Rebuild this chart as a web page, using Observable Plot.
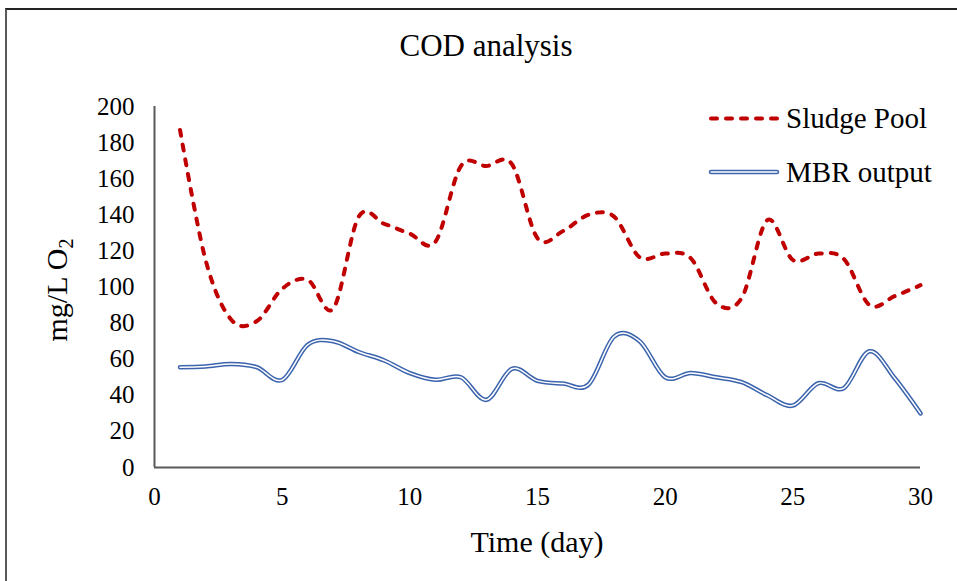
<!DOCTYPE html>
<html>
<head>
<meta charset="utf-8">
<script src="https://cdn.jsdelivr.net/npm/d3@7"></script>
<script src="https://cdn.jsdelivr.net/npm/@observablehq/plot@0.6"></script>
<style>
  html, body { margin: 0; padding: 0; background: #fff; }
  #wrap { position: relative; width: 957px; height: 581px; overflow: hidden; font-family: "Liberation Serif", "Times New Roman", serif; }
  #frame { position: absolute; left: 5px; top: 8px; width: 1000px; height: 700px; border-top: 2px solid #222; border-left: 2px solid #595959; box-sizing: border-box; }
  #chart { position: absolute; left: 0; top: 0; }
  #chart svg, #chart svg text, #chart svg g { font-family: "Liberation Serif", "Times New Roman", serif !important; }
  #overlay { position: absolute; left: 0; top: 0; pointer-events: none; }
  #overlay text { font-family: "Liberation Serif", "Times New Roman", serif; fill: #000; }
</style>
</head>
<body>
<div id="wrap">
  <div id="frame"></div>
  <div id="chart"></div>
  <svg id="overlay" width="957" height="581" xmlns="http://www.w3.org/2000/svg">
    <text x="486" y="56" text-anchor="middle" font-size="31">COD analysis</text>
    <text x="537" y="552" text-anchor="middle" font-size="30">Time (day)</text>
    <text transform="translate(67,290) rotate(-90)" text-anchor="middle" font-size="30">mg/L O<tspan font-size="20" dy="0.3em">2</tspan></text>
    <line x1="711" y1="118.5" x2="777" y2="118.5" stroke="#C00000" stroke-width="4" stroke-dasharray="6,9" stroke-linecap="round"/>
    <text x="786" y="128" font-size="29">Sludge Pool</text>
    <line x1="711" y1="172" x2="777" y2="172" stroke="#3B64AD" stroke-width="4.5" stroke-linecap="round"/>
    <line x1="711" y1="172" x2="777" y2="172" stroke="#fff" stroke-width="1.5" stroke-linecap="round"/>
    <text x="786" y="182" font-size="29">MBR output</text>
  </svg>
</div>
<script>
const days = [1,2,3,4,5,6,7,8,9,10,11,12,13,14,15,16,17,18,19,20,21,22,23,24,25,26,27,28,29,30];
const sludgePool = [187,115,82,81,99,104,88,139,135,129.5,125,167,167,168,127,131,140,139,116.5,118.5,116,91,94,137,115,118.5,115.5,90,95,101];
const mbrOutput = [55.6,56,57.4,55.6,48.5,68,70,64,59.3,52.3,48.6,50,37.5,54.7,48,46.5,46,72.5,70,50,52.3,50,47.3,40,34.3,46.7,44,64.4,49.3,30];
const xTicks = [0,5,10,15,20,25,30];
const yTicks = [0,20,40,60,80,100,120,140,160,180,200];

const sludgeRows = days.map((d, i) => ({day: d, value: sludgePool[i]}));
const mbrRows = days.map((d, i) => ({day: d, value: mbrOutput[i]}));
const serif = "Liberation Serif";

const chart = Plot.plot({
  width: 957,
  height: 581,
  marginLeft: 154,
  marginRight: 37,
  marginTop: 106,
  marginBottom: 114,
  x: {domain: [0, 30]},
  y: {domain: [0, 200]},
  style: {fontFamily: serif, fontSize: "25px", color: "#000", background: "transparent", overflow: "visible"},
  marks: [
    Plot.axisX(xTicks, {tickSize: 0, tickPadding: 20, label: null, fontSize: 25, fontFamily: serif}),
    Plot.axisY(yTicks, {tickSize: 0, tickPadding: 20, label: null, fontSize: 25, fontFamily: serif}),
    Plot.line(mbrRows, {x: "day", y: "value", curve: "cardinal", tension: 0, stroke: "#3B64AD", strokeWidth: 4.5, strokeLinecap: "round", strokeLinejoin: "round"}),
    Plot.line(mbrRows, {x: "day", y: "value", curve: "cardinal", tension: 0, stroke: "#ffffff", strokeWidth: 1.5, strokeLinecap: "round", strokeLinejoin: "round"}),
    Plot.line(sludgeRows, {x: "day", y: "value", curve: "cardinal", tension: 0, stroke: "#C00000", strokeWidth: 4, strokeDasharray: "6,9", strokeLinecap: "round"}),
    Plot.ruleX([0], {stroke: "#595959", strokeWidth: 2}),
    Plot.ruleY([0], {stroke: "#595959", strokeWidth: 2})
  ]
});
document.getElementById("chart").appendChild(chart);
</script>
</body>
</html>
